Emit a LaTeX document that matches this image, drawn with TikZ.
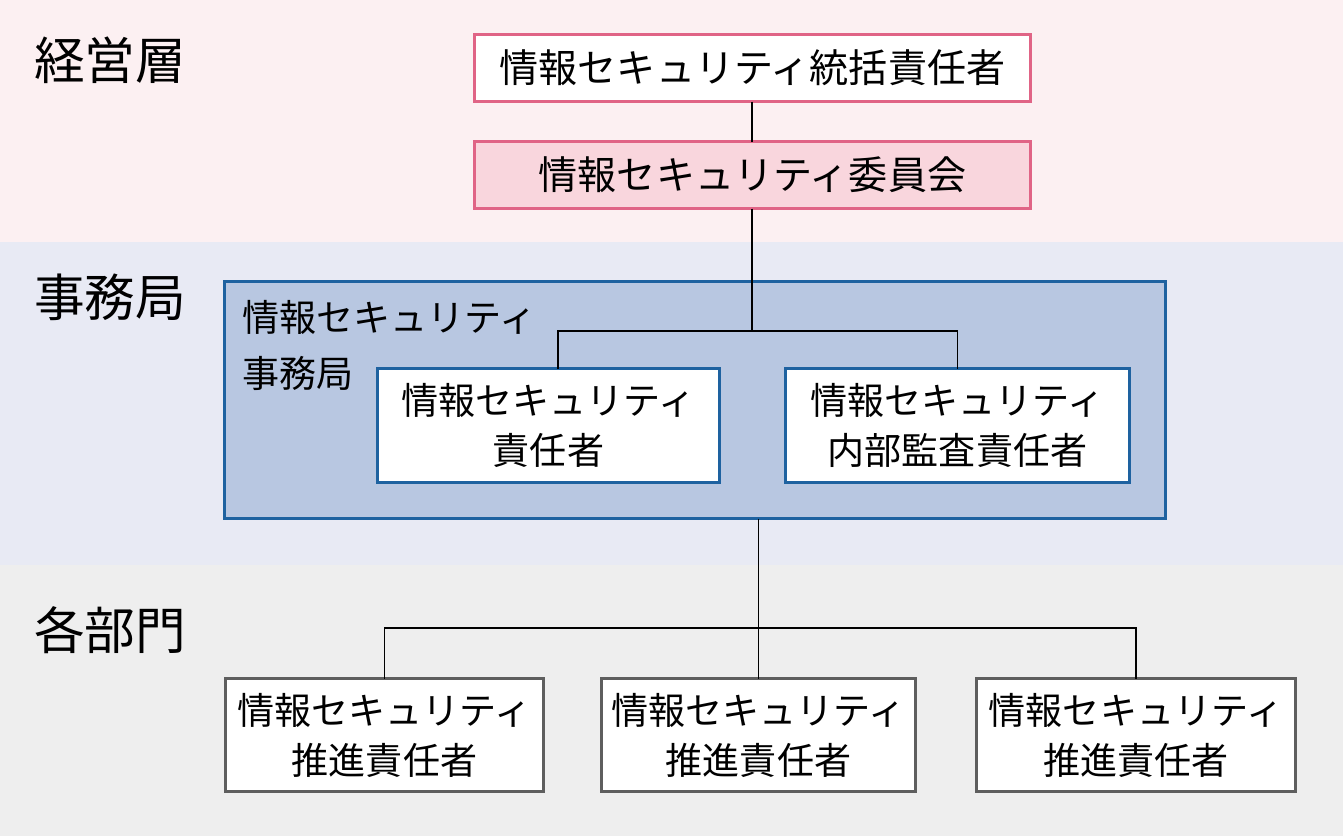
\documentclass[tikz,border=0pt]{standalone}
\usepackage{fontspec}
\setmainfont{Noto Sans CJK JP}
\begin{document}
\begin{tikzpicture}[x=0.75pt,y=-0.75pt,
  every node/.style={inner sep=0pt, outer sep=0pt},
  pinkbox/.style={draw=pinkline, line width=2.8pt, fill=white, font=\fontsize{29.3pt}{36pt}\selectfont},
  bluebox/.style={draw=blueline, line width=2.8pt, fill=white, align=center, font=\fontsize{27.8pt}{37.5pt}\selectfont},
  graybox/.style={draw=grayline, line width=2.8pt, fill=white, align=center, font=\fontsize{27.8pt}{37.5pt}\selectfont},
  layer/.style={font=\fontsize{38pt}{40pt}\selectfont, anchor=west},
  conn/.style={draw=black, line width=1.4pt}]
\definecolor{pinkline}{HTML}{E06486}
\definecolor{pinkfill}{HTML}{F9D6DD}
\definecolor{bandpink}{HTML}{FCF0F2}
\definecolor{bandblue}{HTML}{E8EAF4}
\definecolor{bandgray}{HTML}{EEEEEE}
\definecolor{blueline}{HTML}{1E62A0}
\definecolor{secfill}{HTML}{B8C7E1}
\definecolor{grayline}{HTML}{5E5E5E}
\useasboundingbox (0,0) rectangle (1343,836);
\fill[bandpink] (0,0) rectangle (1343,242);
\fill[bandblue] (0,242) rectangle (1343,565);
\fill[bandgray] (0,565) rectangle (1343,836);
% layer labels
\node[layer] (l1) at (34,60) {経営層};
\node[layer] (l2) at (34,297) {事務局};
\node[layer] (l3) at (34,630) {各部門};
% top boxes
\node[pinkbox, minimum width=556*0.75pt, minimum height=67*0.75pt] (top) at (752.5,68) {情報セキュリティ統括責任者};
\node[pinkbox, fill=pinkfill, minimum width=556*0.75pt, minimum height=67*0.75pt] (com) at (752.5,175) {情報セキュリティ委員会};
% secretariat
\node[draw=blueline, line width=2.8pt, fill=secfill, minimum width=941*0.75pt, minimum height=237*0.75pt] (sec) at (695,400) {};
\node[anchor=north west, align=left, font=\fontsize{27.8pt}{42pt}\selectfont] (sectext) at (242,300) {情報セキュリティ\\事務局};
\node[bluebox, minimum width=342*0.75pt, minimum height=114*0.75pt] (res) at (548.5,425.5) {情報セキュリティ\\責任者};
\node[bluebox, minimum width=344*0.75pt, minimum height=114*0.75pt] (aud) at (957.5,425.5) {情報セキュリティ\\内部監査責任者};
% departments
\node[graybox, minimum width=318*0.75pt, minimum height=113*0.75pt] (b1) at (384.5,735) {情報セキュリティ\\推進責任者};
\node[graybox, minimum width=314*0.75pt, minimum height=113*0.75pt] (b2) at (758.5,735) {情報セキュリティ\\推進責任者};
\node[graybox, minimum width=319*0.75pt, minimum height=113*0.75pt] (b3) at (1136,735) {情報セキュリティ\\推進責任者};
% connectors
\coordinate (j1) at (752,331);
\coordinate (j2) at (758.5,628);
\draw[conn] (top.south -| j1) -- (com.north -| j1);
\draw[conn] (com.south -| j1) -- (j1);
\draw[conn] ([xshift=7pt]res.north) |- (j1) -| (aud.north);
\draw[conn] (b2.north |- sec.south) -- (b2.north);
\draw[conn] (b1.north) |- (j2) -| (b3.north);
\end{tikzpicture}
\end{document}
